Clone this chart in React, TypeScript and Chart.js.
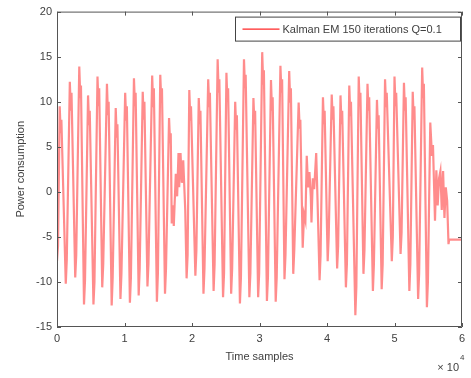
import React, { useEffect, useRef } from "react";
import { Chart, registerables } from "chart.js";

Chart.register(...registerables);

// x values in units of 10^4 time samples
const sampleX = [
  0.000, 0.015, 0.040, 0.055, 0.065,
  0.130, 0.145, 0.190, 0.205, 0.215,
  0.270, 0.285, 0.330, 0.345, 0.355,
  0.400, 0.415, 0.460, 0.475, 0.485,
  0.540, 0.555, 0.600, 0.615, 0.625,
  0.670, 0.685, 0.740, 0.755, 0.765,
  0.810, 0.825, 0.870, 0.885, 0.895,
  0.940, 0.955, 1.010, 1.025, 1.035,
  1.080, 1.095, 1.140, 1.155, 1.165,
  1.210, 1.225, 1.270, 1.285, 1.295,
  1.340, 1.355, 1.410, 1.425, 1.435,
  1.480, 1.495, 1.530, 1.545, 1.555,
  1.600, 1.615, 1.660, 1.675, 1.685,
  1.700, 1.720, 1.730, 1.760, 1.780, 1.800, 1.810, 1.830, 1.850, 1.870, 1.900,
  1.920, 1.935, 1.960, 1.975, 1.985,
  2.050, 2.065, 2.100, 2.115, 2.125,
  2.170, 2.185, 2.240, 2.255, 2.265,
  2.320, 2.335, 2.380, 2.395, 2.405,
  2.460, 2.475, 2.510, 2.525, 2.535,
  2.580, 2.595, 2.640, 2.655, 2.665,
  2.710, 2.725, 2.770, 2.785, 2.795,
  2.850, 2.865, 2.910, 2.925, 2.935,
  2.980, 2.995, 3.040, 3.055, 3.065,
  3.110, 3.125, 3.170, 3.185, 3.195,
  3.240, 3.255, 3.310, 3.325, 3.335,
  3.370, 3.385, 3.440, 3.455, 3.465,
  3.500, 3.515, 3.580, 3.595, 3.605,
  3.640, 3.660, 3.680, 3.700, 3.720, 3.740, 3.760, 3.770, 3.790, 3.810, 3.840, 3.860,
  3.890, 3.905, 3.940, 3.955, 3.965,
  4.010, 4.025, 4.070, 4.085, 4.095,
  4.150, 4.165, 4.200, 4.215, 4.225,
  4.280, 4.295, 4.330, 4.345, 4.355,
  4.420, 4.435, 4.470, 4.485, 4.495,
  4.540, 4.555, 4.600, 4.615, 4.625,
  4.680, 4.695, 4.740, 4.755, 4.765,
  4.810, 4.825, 4.860, 4.875, 4.885,
  4.960, 4.975, 5.000, 5.015, 5.025,
  5.090, 5.105, 5.140, 5.155, 5.165,
  5.220, 5.235, 5.270, 5.285, 5.295,
  5.350, 5.365, 5.410, 5.425, 5.435,
  5.480, 5.495, 5.530,
  5.555, 5.570, 5.600, 5.620, 5.640, 5.660, 5.680, 5.700, 5.720, 5.740, 5.760, 5.780, 5.800, 5.810, 6.000,
];

const powerValues = [
  -7.7, -6.0, 9.5, 6.5, 8.0,
  -10.2, -7.5, 12.2, 9.0, 11.0,
  -9.5, -7.0, 13.9, 10.5, 11.8,
  -12.5, -9.8, 10.7, 7.5, 9.0,
  -12.5, -10.0, 12.8, 9.5, 11.5,
  -10.6, -8.0, 12.0, 8.5, 10.0,
  -12.6, -9.5, 9.3, 6.0, 7.5,
  -11.9, -9.0, 11.0, 8.0, 9.5,
  -12.3, -9.5, 12.6, 9.5, 11.0,
  -11.5, -8.5, 11.1, 8.0, 10.0,
  -10.5, -8.0, 12.9, 9.5, 11.5,
  -12.2, -9.0, 13.0, 10.0, 11.5,
  -11.3, -8.5, 8.2, 5.5, 6.5,
  -3.5, -1.5, -3.8, 2.0, -0.5, 4.3, 0.5, 4.3, 1.0, 3.5, -2.0,
  -9.6, -7.0, 11.3, 8.0, 9.5,
  -9.3, -6.5, 10.4, 7.5, 9.0,
  -11.3, -8.5, 12.5, 9.5, 11.0,
  -11.0, -8.0, 14.7, 11.0, 12.5,
  -11.7, -9.0, 13.2, 10.0, 11.5,
  -11.3, -8.5, 10.0, 7.0, 8.5,
  -12.4, -9.5, 14.7, 11.5, 13.0,
  -11.7, -9.0, 10.4, 7.5, 9.0,
  -11.7, -9.0, 15.5, 12.0, 13.5,
  -12.1, -9.5, 12.4, 9.0, 10.5,
  -12.2, -9.5, 14.0, 11.0, 12.5,
  -9.7, -7.0, 13.4, 10.0, 11.5,
  -9.1, -6.5, 9.9, 7.0, 8.0,
  -6.2, -2.5, -3.2, 4.0, 0.5, 2.2, -0.5, -3.4, 1.5, 0.3, 4.3, -1.0,
  -9.8, -7.0, 10.5, 7.5, 9.0,
  -7.7, -5.0, 10.8, 8.0, 9.5,
  -8.5, -6.0, 10.7, 7.5, 9.0,
  -10.6, -8.0, 11.8, 8.5, 10.0,
  -13.7, -10.5, 12.8, 9.5, 11.0,
  -9.1, -6.5, 12.0, 9.0, 10.5,
  -11.0, -8.0, 10.2, 7.0, 8.5,
  -10.8, -8.0, 12.5, 9.5, 11.0,
  -7.7, -5.0, 12.8, 9.5, 11.0,
  -6.9, -4.5, 12.1, 9.0, 10.5,
  -11.0, -8.0, 11.1, 8.0, 9.5,
  -11.9, -9.0, 13.8, 10.5, 12.0,
  -12.8, -10.0, 7.7,
  4.0, 5.2, -3.2, 2.4, -1.5, 1.5, 2.3, -2.0, 2.3, -2.9, 0.5, -1.0, -5.8, -5.3, -5.3,
];

const xTickValues = [0, 1, 2, 3, 4, 5, 6];
const yTickValues = [-15, -10, -5, 0, 5, 10, 15, 20];
const seriesLabel = "Kalman EM 150 iterations Q=0.1";
const xTitle = "Time samples";
const yTitle = "Power consumption";
const xExponent = "4";

const FONT = "'Liberation Sans', Arial, sans-serif";
const TEXT = "#404040";
const AXIS = "#555555";

const framePlugin = {
  id: "matlabFrame",
  afterDraw(chart: any) {
    const { ctx, chartArea, scales } = chart;
    const { left, right, top, bottom } = chartArea;
    ctx.save();
    ctx.strokeStyle = AXIS;
    ctx.lineWidth = 1;
    ctx.beginPath();
    ctx.rect(left + 0.5, top + 0.5, right - left - 1, bottom - top - 1);
    ctx.stroke();
    const tl = 4;
    ctx.beginPath();
    xTickValues.forEach((v) => {
      const px = Math.round(scales.x.getPixelForValue(v)) + 0.5;
      ctx.moveTo(px, bottom);
      ctx.lineTo(px, bottom - tl);
      ctx.moveTo(px, top);
      ctx.lineTo(px, top + tl);
    });
    yTickValues.forEach((v) => {
      const py = Math.round(scales.y.getPixelForValue(v)) + 0.5;
      ctx.moveTo(left, py);
      ctx.lineTo(left + tl, py);
      ctx.moveTo(right, py);
      ctx.lineTo(right - tl, py);
    });
    ctx.stroke();

    // legend box
    const boxR = right - 1.5;
    const boxT = top + 5.5;
    const boxW = 225;
    const boxH = 24;
    ctx.fillStyle = "#ffffff";
    ctx.fillRect(boxR - boxW, boxT, boxW, boxH);
    ctx.strokeStyle = "#444444";
    ctx.strokeRect(boxR - boxW, boxT, boxW, boxH);
    ctx.strokeStyle = "rgba(255,0,0,0.85)";
    ctx.lineWidth = 1.2;
    ctx.beginPath();
    ctx.moveTo(boxR - boxW + 7, boxT + boxH / 2);
    ctx.lineTo(boxR - boxW + 44, boxT + boxH / 2);
    ctx.stroke();
    ctx.fillStyle = TEXT;
    ctx.font = `11px ${FONT}`;
    ctx.textBaseline = "middle";
    ctx.textAlign = "left";
    ctx.fillText(seriesLabel, boxR - boxW + 47, boxT + boxH / 2 + 1);

    // x exponent
    ctx.font = `11px ${FONT}`;
    ctx.textAlign = "right";
    ctx.textBaseline = "alphabetic";
    ctx.fillText("\u00d7 10", right - 3, bottom + 44);
    ctx.font = `8px ${FONT}`;
    ctx.textAlign = "left";
    ctx.fillText(xExponent, right - 2, bottom + 33);
    ctx.restore();
  },
};

export default function App() {
  const ref = useRef<HTMLCanvasElement | null>(null);
  useEffect(() => {
    if (!ref.current) return;
    const points = sampleX.map((x, i) => ({ x, y: powerValues[i] }));
    const chart = new Chart(ref.current, {
      type: "line",
      data: {
        datasets: [
          {
            label: seriesLabel,
            data: points,
            borderColor: "rgba(255,0,0,0.45)",
            borderWidth: 2.2,
            pointRadius: 0,
            tension: 0,
            fill: false,
          },
        ],
      },
      options: {
        animation: false,
        responsive: false,
        maintainAspectRatio: false,
        events: [],
        layout: { padding: { left: 0, right: 9, top: 9, bottom: 0 } },
        plugins: { legend: { display: false }, tooltip: { enabled: false } },
        scales: {
          x: {
            type: "linear",
            min: 0,
            max: 6,
            afterBuildTicks: (scale: any) => {
              scale.ticks = xTickValues.map((v) => ({ value: v }));
            },
            afterFit: (scale: any) => {
              scale.height = 51;
            },
            ticks: { color: TEXT, font: { family: FONT, size: 11 }, padding: 5 },
            grid: { display: false, drawTicks: false },
            border: { display: false },
            title: {
              display: true,
              text: xTitle,
              color: TEXT,
              font: { family: FONT, size: 11 },
              padding: { top: 0, bottom: 14 },
            },
          },
          y: {
            type: "linear",
            min: -15,
            max: 20,
            afterBuildTicks: (scale: any) => {
              scale.ticks = yTickValues.map((v) => ({ value: v }));
            },
            afterFit: (scale: any) => {
              scale.width = 57;
            },
            ticks: { color: TEXT, font: { family: FONT, size: 11 }, padding: 5 },
            grid: { display: false, drawTicks: false },
            border: { display: false },
            title: {
              display: true,
              text: yTitle,
              color: TEXT,
              font: { family: FONT, size: 11 },
              padding: { top: 14, bottom: 0 },
            },
          },
        },
      },
      plugins: [framePlugin],
    });
    return () => chart.destroy();
  }, []);
  return (
    <div style={{ position: "absolute", left: 0, top: 0, width: 471, height: 378, background: "#fff" }}>
      <canvas ref={ref} width={471} height={378} style={{ width: 471, height: 378, display: "block" }} />
    </div>
  );
}
